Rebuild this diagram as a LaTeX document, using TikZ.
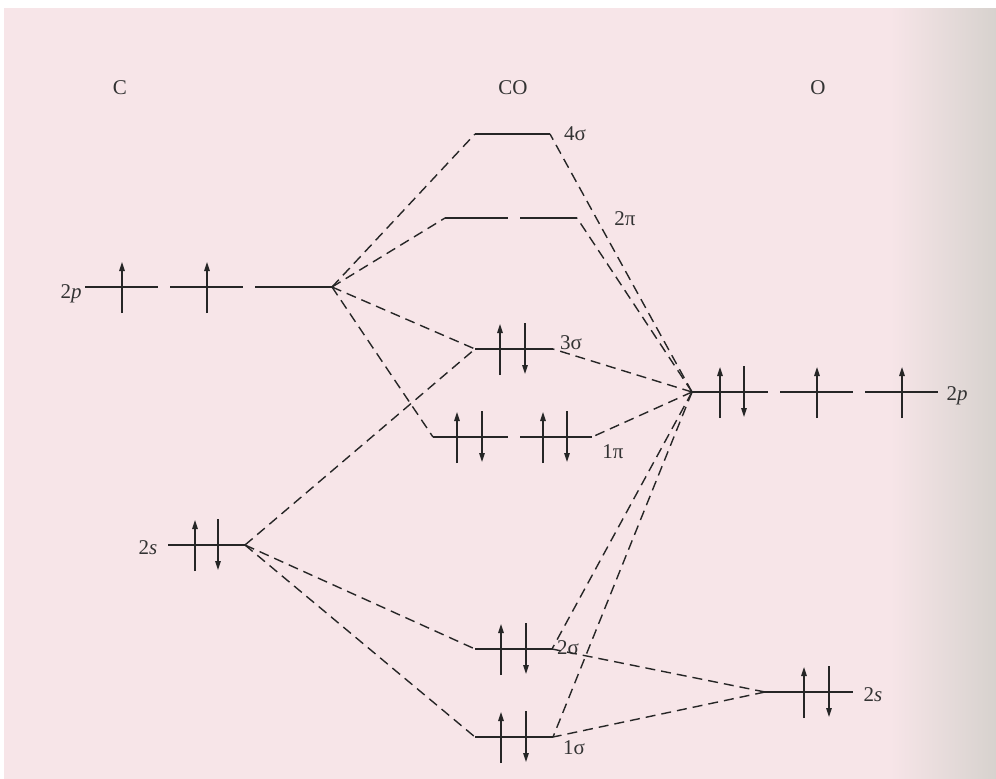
\documentclass[tikz,border=0pt]{standalone}
\usepackage{fontspec}
\setmainfont{Liberation Serif}
\usetikzlibrary{arrows.meta}
\definecolor{bgpink}{RGB}{247,229,232}
\definecolor{bggray}{RGB}{215,210,206}
\begin{document}
\begin{tikzpicture}[x=1pt,y=-1pt,
  level/.style={line width=1.5pt,draw=black!85},
  elec/.style={line width=1.5pt,draw=black!85,-{Triangle[length=9pt,width=5.5pt]}},
  dsh/.style={line width=1.4pt,draw=black!85,dash pattern=on 10pt off 6pt},
  lab/.style={font=\fontsize{21}{24}\selectfont,text=black!80,inner sep=0pt}]
\useasboundingbox (0,0) rectangle (996,779);
\fill[white] (0,0) rectangle (996,779);
\fill[bgpink] (4,8) rectangle (996,779);
\shade[left color=bgpink,right color=bggray] (890,8) rectangle (996,779);
\newcommand{\eUp}[2]{\draw[elec] (#1,#2+26) -- (#1,#2-25);}
\newcommand{\eDn}[2]{\draw[elec] (#1,#2-26) -- (#1,#2+25);}
% titles
\node[lab] (tC) at (120,88) {C};
\node[lab] (tCO) at (513,88) {CO};
\node[lab] (tO) at (818,88) {O};
% C 2p
\coordinate (c2pL) at (85,287);
\coordinate (c2pR) at (332,287);
\draw[level] (85,287) -- (158,287) (170,287) -- (243,287) (255,287) -- (c2pR);
\eUp{122}{287} \eUp{207}{287}
\node[lab] (lc2p) at (71,294) {2\textit{p}};
% C 2s
\coordinate (c2sR) at (245,545);
\draw[level] (168,545) -- (c2sR);
\eUp{195}{545} \eDn{218}{545}
\node[lab] (lc2s) at (148,548) {2\textit{s}};
% O 2p
\coordinate (o2pL) at (692,392);
\draw[level] (o2pL) -- (768,392) (780,392) -- (853,392) (865,392) -- (938,392);
\eUp{720}{392} \eDn{744}{392} \eUp{817}{392} \eUp{902}{392}
\node[lab] (lo2p) at (957,396) {2\textit{p}};
% O 2s
\coordinate (o2sL) at (765,692);
\draw[level] (o2sL) -- (853,692);
\eUp{804}{692} \eDn{829}{692}
\node[lab] (lo2s) at (873,695) {2\textit{s}};
% CO 4sigma
\coordinate (s4L) at (475,134); \coordinate (s4R) at (550,134);
\draw[level] (s4L) -- (s4R);
\node[lab] (l4s) at (575,134) {4σ};
% CO 2pi
\coordinate (p2L) at (445,218); \coordinate (p2R) at (577,218);
\draw[level] (p2L) -- (508,218) (520,218) -- (p2R);
\node[lab] (l2p) at (625,219) {2π};
% CO 3sigma
\coordinate (s3L) at (475,349); \coordinate (s3R) at (553,349);
\draw[level] (s3L) -- (s3R);
\eUp{500}{349} \eDn{525}{349}
\node[lab] (l3s) at (571,343) {3σ};
% CO 1pi
\coordinate (p1L) at (433,437); \coordinate (p1R) at (592,437);
\draw[level] (p1L) -- (508,437) (520,437) -- (p1R);
\eUp{457}{437} \eDn{482}{437} \eUp{543}{437} \eDn{567}{437}
\node[lab] (l1p) at (613,452) {1π};
% CO 2sigma
\coordinate (s2L) at (475,649); \coordinate (s2R) at (552,649);
\draw[level] (s2L) -- (s2R);
\eUp{501}{649} \eDn{526}{649}
\node[lab] (l2s) at (568,648) {2σ};
% CO 1sigma
\coordinate (s1L) at (475,737); \coordinate (s1R) at (553,737);
\draw[level] (s1L) -- (s1R);
\eUp{501}{737} \eDn{526}{737}
\node[lab] (l1s) at (574,748) {1σ};
% correlation lines
\draw[dsh] (c2pR) -- (s4L);
\draw[dsh] (c2pR) -- (p2L);
\draw[dsh] (c2pR) -- (s3L);
\draw[dsh] (c2pR) -- (p1L);
\draw[dsh] (c2sR) -- (s3L);
\draw[dsh] (c2sR) -- (s2L);
\draw[dsh] (c2sR) -- (s1L);
\draw[dsh] (o2pL) -- (s4R);
\draw[dsh] (o2pL) -- (p2R);
\draw[dsh] (o2pL) -- (s3R);
\draw[dsh] (o2pL) -- (p1R);
\draw[dsh] (o2pL) -- (s2R);
\draw[dsh] (o2pL) -- (s1R);
\draw[dsh] (o2sL) -- (s2R);
\draw[dsh] (o2sL) -- (s1R);
\end{tikzpicture}
\end{document}
